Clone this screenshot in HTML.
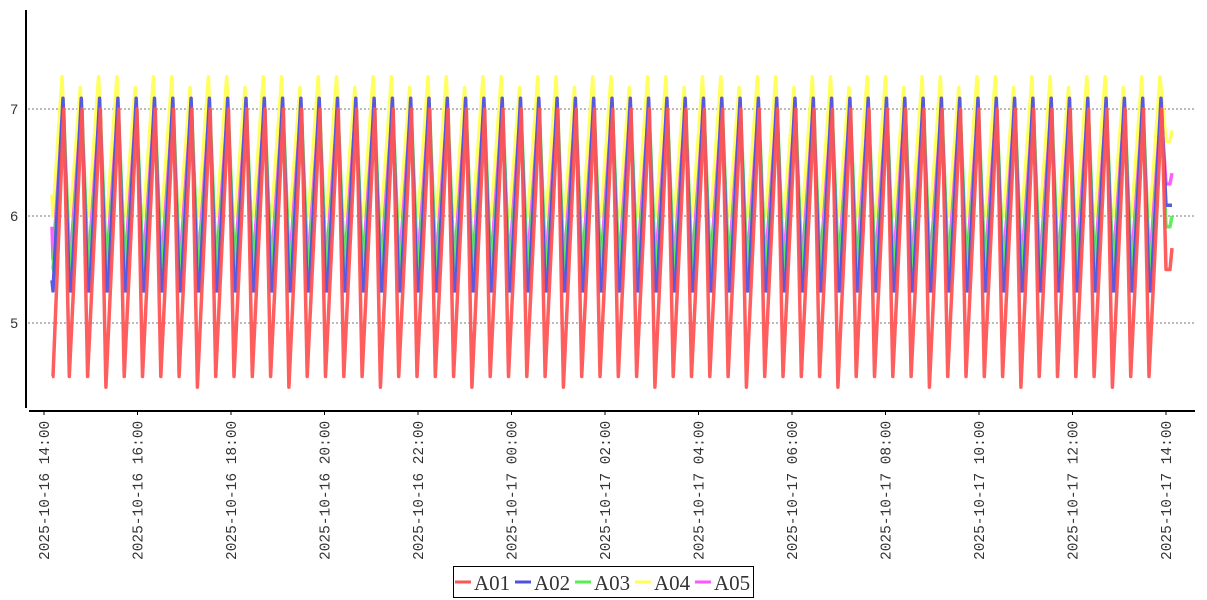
<!DOCTYPE html>
<html><head><meta charset="utf-8"><style>
html,body{margin:0;padding:0;background:#fff;width:1207px;height:600px;overflow:hidden}
</style></head><body>
<svg id="s" width="1207" height="600" xmlns="http://www.w3.org/2000/svg">
<g stroke="#777" stroke-width="1" stroke-dasharray="2,2">
<line x1="28" y1="109" x2="1195" y2="109"/>
<line x1="28" y1="216" x2="1195" y2="216"/>
<line x1="28" y1="323" x2="1195" y2="323"/>
</g>
<g font-family="Liberation Sans, sans-serif" font-size="14" fill="#333" text-anchor="end">
<text x="18" y="114">7</text><text x="18" y="221">6</text><text x="18" y="328">5</text>
</g>
<g id="series" fill="none" stroke-width="3.5" stroke-linejoin="round"></g>
<line x1="26" y1="10" x2="26" y2="408" stroke="#000" stroke-width="2"/>
<line x1="29" y1="411" x2="1195" y2="411" stroke="#000" stroke-width="2"/>
<g id="xl" font-family="Liberation Mono, monospace" font-size="14.5" fill="#333"></g>
<rect x="453.5" y="566.5" width="300" height="31" fill="#fff" stroke="#000"/>
<g font-family="Liberation Serif, serif" font-size="21" fill="#333">
<line x1="455" y1="582" x2="471" y2="582" stroke="#f55" stroke-width="3"/><text x="474" y="590">A01</text>
<line x1="515" y1="582" x2="531" y2="582" stroke="#5050e0" stroke-width="3"/><text x="534" y="590">A02</text>
<line x1="575" y1="582" x2="591" y2="582" stroke="#5e5" stroke-width="3"/><text x="594" y="590">A03</text>
<line x1="635" y1="582" x2="651" y2="582" stroke="#ff5" stroke-width="3"/><text x="654" y="590">A04</text>
<line x1="695" y1="582" x2="711" y2="582" stroke="#f5f" stroke-width="3"/><text x="714" y="590">A05</text>
</g>
</svg>
<script>
var NS="http://www.w3.org/2000/svg";
function Y(v){return 216-(v-6)*107;}
var xl=document.getElementById('xl');
var labs=["2025-10-16  14:00","2025-10-16  16:00","2025-10-16  18:00","2025-10-16  20:00","2025-10-16  22:00","2025-10-17  00:00","2025-10-17  02:00","2025-10-17  04:00","2025-10-17  06:00","2025-10-17  08:00","2025-10-17  10:00","2025-10-17  12:00","2025-10-17  14:00"];
for(var i=0;i<13;i++){var x=44+i*93.5;
 var t=document.createElementNS(NS,'text');t.setAttribute('transform','translate('+(x+5)+',560) rotate(-90)');t.textContent=labs[i];xl.appendChild(t);
 var l=document.createElementNS(NS,'line');l.setAttribute('x1',x);l.setAttribute('x2',x);l.setAttribute('y1',411);l.setAttribute('y2',415);l.setAttribute('stroke','#000');xl.appendChild(l);}
var g=document.getElementById('series');
var P=18.3, x0=52, x1=1163;
// [color, min, max, peak offset, fall fraction, start, endtail, flatbottom]
var S=[
 ["#ffff55",6.0,7.3,-1,0.3,6.2,[6.7,6.8],3],
 ["#ff55ff",5.6,7.0,0,0.35,5.9,[6.3,6.4],1],
 ["#55ee55",5.5,7.0,0.5,0.35,5.5,[5.9,6.0],1],
 ["#5050e0",5.3,7.1,0,0.35,5.4,[6.1,6.1],2],
 ["#ff5555",4.5,7.0,0.8,0.3,4.5,[5.5,5.7],0]
];
S.forEach(function(s){
 var d="M"+x0+","+Y(s[5]);
 var p0=x0+11+s[3];
 d+=" L"+(x0+1)+","+Y(s[1]);
 for(var k=0;;k++){
  var px=p0+k*P; if(px>x1+1)break;
  var hi=s[2]; if(s[0]=="#ffff55"&&k%3==1)hi=7.2;
  d+=" L"+px.toFixed(1)+","+Y(hi);
  var bx=px+P*s[4];
  var lo=s[1]; if(s[0]=="#ff5555"&&(k%5==2))lo=4.4;
  if(bx<x1){ d+=" L"+bx.toFixed(1)+","+Y(lo);
   if(s[7]) d+=" L"+(bx+s[7]).toFixed(1)+","+Y(lo);
  }
 }
 d+=" L1166,"+Y(s[6][0])+" L1170,"+Y(s[6][0])+" L1172,"+Y(s[6][1]);
 var p=document.createElementNS(NS,'path');p.setAttribute('d',d);p.setAttribute('stroke',s[0]);p.setAttribute('opacity','0.95');g.appendChild(p);
});
</script>
</body></html>
